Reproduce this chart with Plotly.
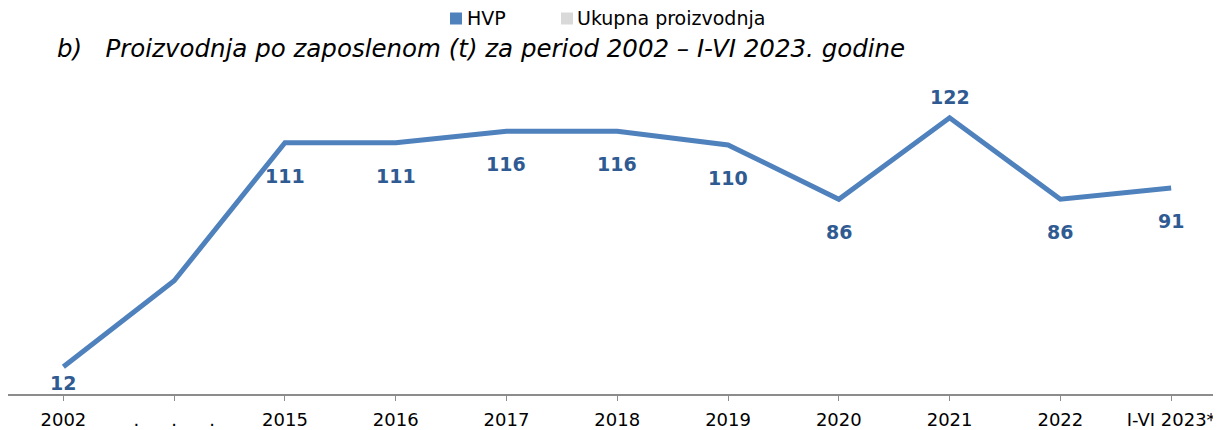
import plotly.graph_objects as go

NB = "\u00a0"
TS = "\u2009"
GAP = NB * 5 + TS
categories = ["2002", "." + GAP + "." + GAP + ".", "2015", "2016", "2017", "2018",
              "2019", "2020", "2021", "2022", "I-VI 2023*"]
hvp_values = [12, 50, 111, 111, 116, 116, 110, 86, 122, 86, 91]
value_labels = ["12", "", "111", "111", "116", "116", "110", "86", "122", "86", "91"]
label_place = ["low"] + ["below"] * 7 + ["above"] + ["below"] * 2
legend_names = ["HVP", "Ukupna proizvodnja"]
legend_colors = ["#4F81BD", "#D9D9D9"]
title_text = "b)" + NB * 3 + "Proizvodnja po zaposlenom (t) za period 2002 – I-VI 2023. godine"

FONT = "DejaVu Sans, Verdana, sans-serif"
OFF = 8  # page body margin
W, H = 1221 - OFF, 430 - OFF
ML, MR, MT, MB = 0, 0, 77 - OFF, 430 - 394
PW, PH = W - ML - MR, H - MT - MB
SHIFTS = {"low": -16, "below": -33, "above": 21}


def px_x(px):  # window pixel -> paper
    return (px - OFF - ML) / PW


def px_y(py):
    return (H - MB - (py - OFF)) / PH


fig = go.Figure()
fig.add_trace(go.Scatter(
    x=categories, y=hvp_values, mode="lines",
    line=dict(color="#4F81BD", width=5),
    showlegend=False, cliponaxis=False, hoverinfo="skip",
))

annotations = []
for i, (val, lab, place) in enumerate(zip(hvp_values, value_labels, label_place)):
    if not lab:
        continue
    annotations.append(dict(
        x=i, y=val, xref="x", yref="y", text=lab, showarrow=False,
        yshift=SHIFTS[place],
        font=dict(family=FONT, size=19, color="#2F5B92", weight="bold"),
    ))

# legend (square + text)
legend_px = [(450, 465), (561, 575)]
shapes = []
for (sq_x, tx_x), name, color in zip(legend_px, legend_names, legend_colors):
    shapes.append(dict(type="rect", xref="paper", yref="paper",
                       x0=px_x(sq_x), x1=px_x(sq_x + 12),
                       y0=px_y(24.5), y1=px_y(12.5),
                       fillcolor=color, line=dict(width=0)))
    annotations.append(dict(
        x=px_x(tx_x), y=px_y(18), xref="paper", yref="paper", text=name,
        showarrow=False, xanchor="left", yanchor="middle",
        font=dict(family=FONT, size=19, color="#000000"),
    ))

fig.update_layout(
    width=W, height=H,
    margin=dict(l=ML, r=MR, t=MT, b=MB),
    paper_bgcolor="white", plot_bgcolor="white",
    font=dict(family=FONT, size=17, color="#000000"),
    title=dict(text=title_text, x=(57 - OFF) / W, xanchor="left", xref="container",
               y=1 - (48 - OFF) / H, yanchor="middle", yref="container",
               font=dict(family=FONT, size=24.5, color="#000000", style="italic")),
    showlegend=False,
    annotations=annotations,
    shapes=shapes,
    xaxis=dict(type="category", range=[-0.5, 10.45], showgrid=False,
               showline=True, linecolor="#8C8C8C", linewidth=1.5,
               ticks="outside", ticklen=5, tickcolor="#8C8C8C",
               ticklabelstandoff=4,
               tickfont=dict(family=FONT, size=18, color="#000000"),
               zeroline=False, fixedrange=True, automargin=False),
    yaxis=dict(range=[0, 140], visible=False, showgrid=False, zeroline=False,
               automargin=False),
)

fig.write_html("out.html")
